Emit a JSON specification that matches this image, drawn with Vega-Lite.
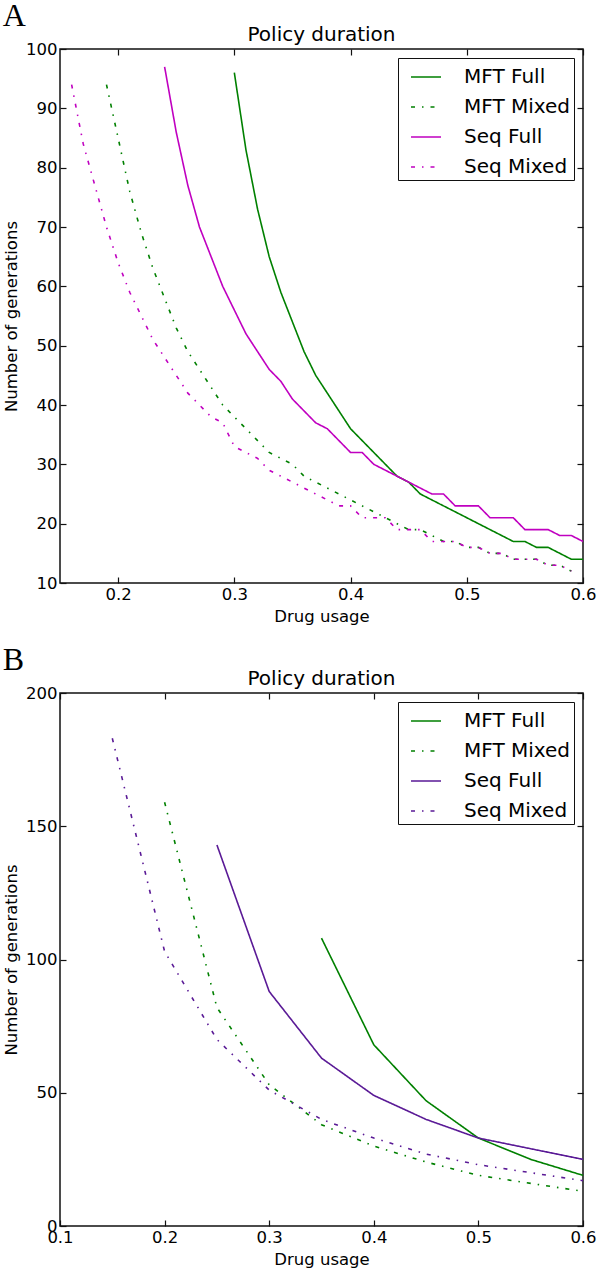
{
  "$schema": "https://vega.github.io/schema/vega-lite/v6.json",
  "padding": {"left": 2, "top": 0, "right": 0, "bottom": 0},
  "background": "white",
  "datasets": {
    "a": [
      {"x":0.30,"y":96,"series":"MFT Full"},{"x":0.31,"y":83,"series":"MFT Full"},{"x":0.32,"y":73,"series":"MFT Full"},{"x":0.33,"y":65,"series":"MFT Full"},{"x":0.34,"y":59,"series":"MFT Full"},{"x":0.35,"y":54,"series":"MFT Full"},{"x":0.36,"y":49,"series":"MFT Full"},{"x":0.37,"y":45,"series":"MFT Full"},{"x":0.38,"y":42,"series":"MFT Full"},{"x":0.39,"y":39,"series":"MFT Full"},{"x":0.40,"y":36,"series":"MFT Full"},{"x":0.41,"y":34,"series":"MFT Full"},{"x":0.42,"y":32,"series":"MFT Full"},{"x":0.43,"y":30,"series":"MFT Full"},{"x":0.44,"y":28,"series":"MFT Full"},{"x":0.45,"y":27,"series":"MFT Full"},{"x":0.46,"y":25,"series":"MFT Full"},{"x":0.47,"y":24,"series":"MFT Full"},{"x":0.48,"y":23,"series":"MFT Full"},{"x":0.49,"y":22,"series":"MFT Full"},{"x":0.50,"y":21,"series":"MFT Full"},{"x":0.51,"y":20,"series":"MFT Full"},{"x":0.52,"y":19,"series":"MFT Full"},{"x":0.53,"y":18,"series":"MFT Full"},{"x":0.54,"y":17,"series":"MFT Full"},{"x":0.55,"y":17,"series":"MFT Full"},{"x":0.56,"y":16,"series":"MFT Full"},{"x":0.57,"y":16,"series":"MFT Full"},{"x":0.58,"y":15,"series":"MFT Full"},{"x":0.59,"y":14,"series":"MFT Full"},{"x":0.60,"y":14,"series":"MFT Full"},
      {"x":0.19,"y":94,"series":"MFT Mixed"},{"x":0.20,"y":85,"series":"MFT Mixed"},{"x":0.21,"y":76,"series":"MFT Mixed"},{"x":0.22,"y":69,"series":"MFT Mixed"},{"x":0.23,"y":63,"series":"MFT Mixed"},{"x":0.24,"y":58,"series":"MFT Mixed"},{"x":0.25,"y":53,"series":"MFT Mixed"},{"x":0.26,"y":49,"series":"MFT Mixed"},{"x":0.27,"y":46,"series":"MFT Mixed"},{"x":0.28,"y":43,"series":"MFT Mixed"},{"x":0.29,"y":40,"series":"MFT Mixed"},{"x":0.30,"y":38,"series":"MFT Mixed"},{"x":0.31,"y":36,"series":"MFT Mixed"},{"x":0.32,"y":34,"series":"MFT Mixed"},{"x":0.33,"y":32,"series":"MFT Mixed"},{"x":0.34,"y":31,"series":"MFT Mixed"},{"x":0.35,"y":30,"series":"MFT Mixed"},{"x":0.36,"y":28,"series":"MFT Mixed"},{"x":0.37,"y":27,"series":"MFT Mixed"},{"x":0.38,"y":26,"series":"MFT Mixed"},{"x":0.39,"y":25,"series":"MFT Mixed"},{"x":0.40,"y":24,"series":"MFT Mixed"},{"x":0.41,"y":23,"series":"MFT Mixed"},{"x":0.42,"y":22,"series":"MFT Mixed"},{"x":0.43,"y":21,"series":"MFT Mixed"},{"x":0.44,"y":20,"series":"MFT Mixed"},{"x":0.45,"y":19,"series":"MFT Mixed"},{"x":0.46,"y":19,"series":"MFT Mixed"},{"x":0.47,"y":18,"series":"MFT Mixed"},{"x":0.48,"y":17,"series":"MFT Mixed"},{"x":0.49,"y":17,"series":"MFT Mixed"},{"x":0.50,"y":16,"series":"MFT Mixed"},{"x":0.51,"y":16,"series":"MFT Mixed"},{"x":0.52,"y":15,"series":"MFT Mixed"},{"x":0.53,"y":15,"series":"MFT Mixed"},{"x":0.54,"y":14,"series":"MFT Mixed"},{"x":0.55,"y":14,"series":"MFT Mixed"},{"x":0.56,"y":14,"series":"MFT Mixed"},{"x":0.57,"y":13,"series":"MFT Mixed"},{"x":0.58,"y":13,"series":"MFT Mixed"},{"x":0.59,"y":12,"series":"MFT Mixed"},
      {"x":0.24,"y":97,"series":"Seq Full"},{"x":0.25,"y":86,"series":"Seq Full"},{"x":0.26,"y":77,"series":"Seq Full"},{"x":0.27,"y":70,"series":"Seq Full"},{"x":0.28,"y":65,"series":"Seq Full"},{"x":0.29,"y":60,"series":"Seq Full"},{"x":0.30,"y":56,"series":"Seq Full"},{"x":0.31,"y":52,"series":"Seq Full"},{"x":0.32,"y":49,"series":"Seq Full"},{"x":0.33,"y":46,"series":"Seq Full"},{"x":0.34,"y":44,"series":"Seq Full"},{"x":0.35,"y":41,"series":"Seq Full"},{"x":0.36,"y":39,"series":"Seq Full"},{"x":0.37,"y":37,"series":"Seq Full"},{"x":0.38,"y":36,"series":"Seq Full"},{"x":0.39,"y":34,"series":"Seq Full"},{"x":0.40,"y":32,"series":"Seq Full"},{"x":0.41,"y":32,"series":"Seq Full"},{"x":0.42,"y":30,"series":"Seq Full"},{"x":0.43,"y":29,"series":"Seq Full"},{"x":0.44,"y":28,"series":"Seq Full"},{"x":0.45,"y":27,"series":"Seq Full"},{"x":0.46,"y":26,"series":"Seq Full"},{"x":0.47,"y":25,"series":"Seq Full"},{"x":0.48,"y":25,"series":"Seq Full"},{"x":0.49,"y":23,"series":"Seq Full"},{"x":0.50,"y":23,"series":"Seq Full"},{"x":0.51,"y":23,"series":"Seq Full"},{"x":0.52,"y":21,"series":"Seq Full"},{"x":0.53,"y":21,"series":"Seq Full"},{"x":0.54,"y":21,"series":"Seq Full"},{"x":0.55,"y":19,"series":"Seq Full"},{"x":0.56,"y":19,"series":"Seq Full"},{"x":0.57,"y":19,"series":"Seq Full"},{"x":0.58,"y":18,"series":"Seq Full"},{"x":0.59,"y":18,"series":"Seq Full"},{"x":0.60,"y":17,"series":"Seq Full"},
      {"x":0.16,"y":94,"series":"Seq Mixed"},{"x":0.17,"y":84,"series":"Seq Mixed"},{"x":0.18,"y":77,"series":"Seq Mixed"},{"x":0.19,"y":70,"series":"Seq Mixed"},{"x":0.20,"y":64,"series":"Seq Mixed"},{"x":0.21,"y":59,"series":"Seq Mixed"},{"x":0.22,"y":55,"series":"Seq Mixed"},{"x":0.23,"y":51,"series":"Seq Mixed"},{"x":0.24,"y":48,"series":"Seq Mixed"},{"x":0.25,"y":45,"series":"Seq Mixed"},{"x":0.26,"y":42,"series":"Seq Mixed"},{"x":0.27,"y":40,"series":"Seq Mixed"},{"x":0.28,"y":38,"series":"Seq Mixed"},{"x":0.29,"y":37,"series":"Seq Mixed"},{"x":0.30,"y":33,"series":"Seq Mixed"},{"x":0.31,"y":32,"series":"Seq Mixed"},{"x":0.32,"y":31,"series":"Seq Mixed"},{"x":0.33,"y":29,"series":"Seq Mixed"},{"x":0.34,"y":28,"series":"Seq Mixed"},{"x":0.35,"y":27,"series":"Seq Mixed"},{"x":0.36,"y":26,"series":"Seq Mixed"},{"x":0.37,"y":25,"series":"Seq Mixed"},{"x":0.38,"y":24,"series":"Seq Mixed"},{"x":0.39,"y":23,"series":"Seq Mixed"},{"x":0.40,"y":23,"series":"Seq Mixed"},{"x":0.41,"y":21,"series":"Seq Mixed"},{"x":0.42,"y":21,"series":"Seq Mixed"},{"x":0.43,"y":21,"series":"Seq Mixed"},{"x":0.44,"y":19,"series":"Seq Mixed"},{"x":0.45,"y":19,"series":"Seq Mixed"},{"x":0.46,"y":19,"series":"Seq Mixed"},{"x":0.47,"y":17,"series":"Seq Mixed"},{"x":0.48,"y":17,"series":"Seq Mixed"},{"x":0.49,"y":17,"series":"Seq Mixed"},{"x":0.50,"y":16,"series":"Seq Mixed"},{"x":0.51,"y":16,"series":"Seq Mixed"},{"x":0.52,"y":15,"series":"Seq Mixed"},{"x":0.53,"y":15,"series":"Seq Mixed"},{"x":0.54,"y":14,"series":"Seq Mixed"},{"x":0.55,"y":14,"series":"Seq Mixed"},{"x":0.56,"y":14,"series":"Seq Mixed"},{"x":0.57,"y":13,"series":"Seq Mixed"},{"x":0.58,"y":13,"series":"Seq Mixed"},{"x":0.59,"y":12,"series":"Seq Mixed"}
    ],
    "b": [
      {"x":0.35,"y":108,"series":"MFT Full"},{"x":0.40,"y":68,"series":"MFT Full"},{"x":0.45,"y":47,"series":"MFT Full"},{"x":0.50,"y":33,"series":"MFT Full"},{"x":0.55,"y":25,"series":"MFT Full"},{"x":0.60,"y":19,"series":"MFT Full"},
      {"x":0.20,"y":159,"series":"MFT Mixed"},{"x":0.25,"y":82,"series":"MFT Mixed"},{"x":0.30,"y":53,"series":"MFT Mixed"},{"x":0.35,"y":38,"series":"MFT Mixed"},{"x":0.40,"y":30,"series":"MFT Mixed"},{"x":0.45,"y":24,"series":"MFT Mixed"},{"x":0.50,"y":19,"series":"MFT Mixed"},{"x":0.55,"y":16,"series":"MFT Mixed"},{"x":0.60,"y":13,"series":"MFT Mixed"},
      {"x":0.25,"y":143,"series":"Seq Full"},{"x":0.30,"y":88,"series":"Seq Full"},{"x":0.35,"y":63,"series":"Seq Full"},{"x":0.40,"y":49,"series":"Seq Full"},{"x":0.45,"y":40,"series":"Seq Full"},{"x":0.50,"y":33,"series":"Seq Full"},{"x":0.55,"y":29,"series":"Seq Full"},{"x":0.60,"y":25,"series":"Seq Full"},
      {"x":0.15,"y":183,"series":"Seq Mixed"},{"x":0.20,"y":103,"series":"Seq Mixed"},{"x":0.25,"y":70,"series":"Seq Mixed"},{"x":0.30,"y":51,"series":"Seq Mixed"},{"x":0.35,"y":40,"series":"Seq Mixed"},{"x":0.40,"y":33,"series":"Seq Mixed"},{"x":0.45,"y":27,"series":"Seq Mixed"},{"x":0.50,"y":23,"series":"Seq Mixed"},{"x":0.55,"y":20,"series":"Seq Mixed"},{"x":0.60,"y":17,"series":"Seq Mixed"}
    ]
  },
  "spacing": 18,
  "vconcat": [
    {
      "title": {"text": "A", "anchor": "start", "font": "Liberation Serif", "fontSize": 32, "fontWeight": "normal", "offset": -14, "dy": -5},
      "resolve": {"scale": {"color": "independent", "strokeDash": "independent"}, "legend": {"color": "independent", "strokeDash": "independent"}},
      "vconcat": [
        {
          "title": {"text": "Policy duration", "offset": -4},
          "width": 523,
          "height": 534,
          "data": {"name": "a"},
          "layer": [
            {
              "mark": {"type": "line", "strokeWidth": 1.6},
              "encoding": {
                "x": {"field": "x", "type": "quantitative", "scale": {"domain": [0.15, 0.6], "nice": false, "zero": false},
                      "axis": {"orient": "bottom", "values": [0.2, 0.3, 0.4, 0.5, 0.6], "format": ".1f", "title": "Drug usage"}},
                "y": {"field": "y", "type": "quantitative", "scale": {"domain": [10, 100], "nice": false, "zero": false},
                      "axis": {"orient": "left", "values": [10, 20, 30, 40, 50, 60, 70, 80, 90, 100], "format": "d", "title": "Number of generations"}},
                "color": {"field": "series", "type": "nominal",
                          "scale": {"domain": ["MFT Full", "MFT Mixed", "Seq Full", "Seq Mixed"], "range": ["#008000", "#008000", "#c000c0", "#c000c0"]},
                          "legend": {"orient": "top-right", "offset": 9, "title": null}},
                "strokeDash": {"field": "series", "type": "nominal",
                          "scale": {"domain": ["MFT Full", "MFT Mixed", "Seq Full", "Seq Mixed"], "range": [[1, 0], [4, 7, 1.5, 7], [1, 0], [4, 7, 1.5, 7]]},
                          "legend": {"orient": "top-right", "offset": 9, "title": null}}
              }
            },
            {
              "mark": {"type": "line", "opacity": 0},
              "encoding": {
                "x": {"field": "x", "type": "quantitative", "axis": {"orient": "top", "values": [0.2, 0.3, 0.4, 0.5, 0.6], "labels": false, "title": null}},
                "y": {"field": "y", "type": "quantitative", "axis": {"orient": "right", "values": [10, 20, 30, 40, 50, 60, 70, 80, 90, 100], "labels": false, "title": null}},
                "detail": {"field": "series"}
              }
            }
          ],
          "resolve": {"axis": {"x": "independent", "y": "independent"}}
        }
      ]
    },
    {
      "title": {"text": "B", "anchor": "start", "font": "Liberation Serif", "fontSize": 32, "fontWeight": "normal", "offset": -14, "dy": -5},
      "resolve": {"scale": {"color": "independent", "strokeDash": "independent"}, "legend": {"color": "independent", "strokeDash": "independent"}},
      "vconcat": [
        {
          "title": {"text": "Policy duration", "offset": -4},
          "width": 523,
          "height": 533,
          "data": {"name": "b"},
          "layer": [
            {
              "mark": {"type": "line", "strokeWidth": 1.6},
              "encoding": {
                "x": {"field": "x", "type": "quantitative", "scale": {"domain": [0.1, 0.6], "nice": false, "zero": false},
                      "axis": {"orient": "bottom", "values": [0.1, 0.2, 0.3, 0.4, 0.5, 0.6], "format": ".1f", "title": "Drug usage"}},
                "y": {"field": "y", "type": "quantitative", "scale": {"domain": [0, 200], "nice": false, "zero": false},
                      "axis": {"orient": "left", "values": [0, 50, 100, 150, 200], "format": "d", "title": "Number of generations"}},
                "color": {"field": "series", "type": "nominal",
                          "scale": {"domain": ["MFT Full", "MFT Mixed", "Seq Full", "Seq Mixed"], "range": ["#008000", "#008000", "#5a1a96", "#5a1a96"]},
                          "legend": {"orient": "top-right", "offset": 9, "title": null}},
                "strokeDash": {"field": "series", "type": "nominal",
                          "scale": {"domain": ["MFT Full", "MFT Mixed", "Seq Full", "Seq Mixed"], "range": [[1, 0], [4, 7, 1.5, 7], [1, 0], [4, 7, 1.5, 7]]},
                          "legend": {"orient": "top-right", "offset": 9, "title": null}}
              }
            },
            {
              "mark": {"type": "line", "opacity": 0},
              "encoding": {
                "x": {"field": "x", "type": "quantitative", "axis": {"orient": "top", "values": [0.1, 0.2, 0.3, 0.4, 0.5, 0.6], "labels": false, "title": null}},
                "y": {"field": "y", "type": "quantitative", "axis": {"orient": "right", "values": [0, 50, 100, 150, 200], "labels": false, "title": null}},
                "detail": {"field": "series"}
              }
            }
          ],
          "resolve": {"axis": {"x": "independent", "y": "independent"}}
        }
      ]
    }
  ],
  "resolve": {"scale": {"color": "independent", "strokeDash": "independent", "x": "independent", "y": "independent"}, "legend": {"color": "independent", "strokeDash": "independent"}},
  "config": {
    "font": "DejaVu Sans",
    "view": {"stroke": "#111111", "strokeWidth": 1.5},
    "title": {"font": "DejaVu Sans", "fontSize": 20, "fontWeight": "normal", "color": "black"},
    "axis": {
      "grid": false, "domain": false, "labelFlush": false, "labelOverlap": false,
      "tickSize": -6, "tickColor": "#111111", "tickWidth": 1.2,
      "labelFont": "DejaVu Sans", "labelFontSize": 16.5, "labelColor": "black", "labelPadding": 9,
      "titleFont": "DejaVu Sans", "titleFontSize": 16.5, "titleFontWeight": "normal", "titleColor": "black", "titlePadding": 6
    },
    "legend": {
      "labelFont": "DejaVu Sans", "labelFontSize": 20, "labelColor": "black",
      "strokeColor": "#111111", "fillColor": "white", "padding": 3, "symbolOffset": 9,
      "symbolType": "stroke", "symbolSize": 900, "symbolStrokeWidth": 1.6,
      "labelOffset": 22, "rowPadding": 4
    }
  }
}
